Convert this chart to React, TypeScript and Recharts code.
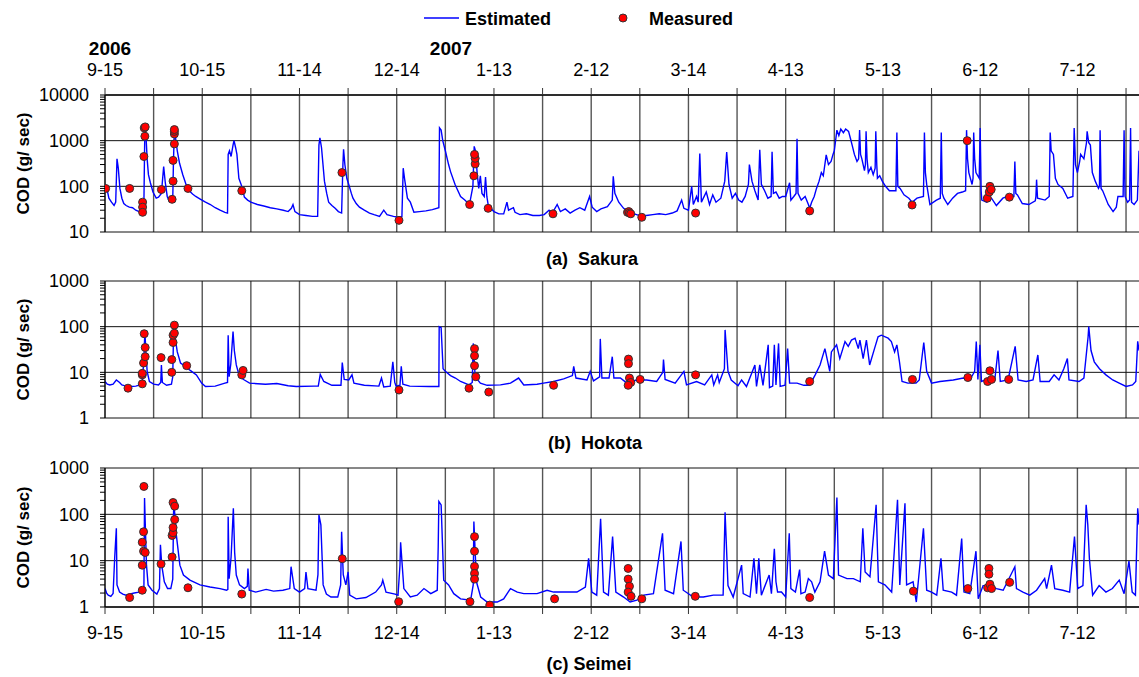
import React from "react";
import {
  ComposedChart,
  Line,
  Scatter,
  XAxis,
  YAxis,
  CartesianGrid,
} from "recharts";

// x axis: days since 2006-09-15
const gridDays = [0, 15, 30, 45, 60, 75, 90, 105, 120, 135, 150, 165, 180, 195, 210, 225, 240, 255, 270, 285, 300, 315];
const labelDays = [0, 30, 60, 90, 120, 150, 180, 210, 240, 270, 300];
const dateLabels = ["9-15", "10-15", "11-14", "12-14", "1-13", "2-12", "3-14", "4-13", "5-13", "6-12", "7-12"];
const lastDay = 319;

const sakuraDecades = [10, 100, 1000, 10000];
const hokotaDecades = [1, 10, 100, 1000];
const seimeiDecades = [1, 10, 100, 1000];
const minorSteps = [2, 3, 4, 5, 6, 7, 8, 9];

// [day, COD g/sec]
const sakuraEstimated: [number, number][] = [
  [0, 110], [0.5, 95], [1.2, 55], [2, 45], [2.8, 38], [3.3, 45], [3.7, 400], [4.1, 250], [4.6, 90], [5.2, 55],
  [5.8, 42], [6.5, 38], [7.5, 35], [8.5, 34], [9.5, 30], [10.5, 28], [11.3, 26], [11.8, 24], [12.0, 40], [12.3, 2000],
  [12.6, 1500], [13.0, 400], [13.4, 180], [14.0, 120], [14.8, 75], [15.8, 55], [16.5, 58], [17.4, 70], [18.1, 270], [18.6, 120],
  [19.2, 60], [19.8, 48], [20.5, 45], [20.9, 50], [21.1, 300], [21.4, 1800], [21.8, 1100], [22.3, 600], [23.0, 320], [24.0, 180],
  [25.0, 110], [26.0, 80], [27.0, 68], [28.0, 60], [29.5, 52], [31.0, 45], [32.5, 40], [34.0, 34], [35.5, 30], [37.0, 27],
  [37.8, 26], [38.0, 500], [38.4, 600], [38.9, 450], [39.5, 800], [39.8, 1000], [40.3, 700], [40.7, 500], [41.3, 150], [41.8, 120],
  [42.3, 95], [43.0, 58], [44.0, 50], [45.0, 45], [47.0, 40], [49.0, 37], [51.0, 34], [53.0, 32], [55.0, 30], [56.5, 28],
  [57.5, 33], [58.0, 40], [58.6, 28], [60.0, 24], [62.0, 23], [64.0, 22], [65.6, 22], [66.0, 800], [66.3, 1150], [66.8, 700],
  [67.7, 130], [68.4, 70], [69.0, 45], [70.0, 38], [71.0, 33], [72.0, 28], [73.0, 26], [73.4, 300], [73.6, 650], [74.0, 300],
  [74.6, 150], [75.2, 110], [76.0, 70], [76.5, 55], [77.5, 42], [78.5, 35], [80.0, 30], [81.6, 26], [83.0, 24], [84.7, 22],
  [86.0, 30], [87.0, 24], [89.0, 22], [90.5, 21], [91.6, 22], [92.0, 250], [92.4, 150], [93.3, 55], [94.2, 45], [95.3, 27],
  [97.0, 28], [99.0, 29], [101.0, 31], [103.0, 34], [103.2, 1900], [103.7, 1700], [104.2, 1000], [105.0, 600], [106.0, 300], [106.6, 210],
  [108.0, 110], [109.7, 60], [111.0, 50], [111.7, 45], [112.5, 42], [113.5, 100], [113.9, 750], [114.3, 600], [114.8, 200], [115.3, 90],
  [115.8, 170], [116.3, 70], [117.0, 60], [117.4, 160], [117.8, 60], [118.2, 40], [119.0, 33], [120.0, 28], [121.5, 25], [123.0, 25],
  [124.0, 45], [124.5, 30], [126.0, 34], [126.5, 27], [128.0, 24], [130.0, 25], [132.0, 23], [134.0, 23], [135.5, 24], [137.0, 30],
  [138.0, 26], [139.5, 40], [140.5, 28], [142.0, 32], [143.5, 26], [145.0, 30], [146.5, 34], [148.0, 30], [149.5, 60], [150.3, 35],
  [151.7, 28], [153.0, 32], [155.0, 36], [156.5, 50], [156.8, 165], [157.3, 70], [158.5, 45], [160.0, 33], [161.5, 28], [162.5, 26],
  [164.0, 24], [165.5, 22], [167.0, 23], [169.0, 24], [171.0, 25], [173.0, 24], [175.0, 26], [176.5, 29], [177.9, 50], [178.6, 33],
  [180.0, 30], [181.0, 100], [181.5, 40], [182.5, 60], [183.0, 45], [183.5, 520], [184.0, 45], [185.5, 75], [186.5, 40], [187.5, 65],
  [188.5, 45], [190.0, 55], [191.2, 130], [191.8, 560], [192.5, 110], [193.5, 55], [194.5, 70], [195.5, 50], [196.5, 45], [197.5, 60],
  [198.5, 110], [198.8, 300], [199.6, 130], [200.5, 80], [201.5, 50], [202.0, 630], [202.5, 110], [203.5, 80], [204.5, 55], [205.5, 60],
  [205.8, 570], [206.2, 70], [207.0, 75], [208.0, 55], [209.0, 60], [210.0, 60], [211.2, 120], [211.6, 50], [212.5, 60], [213.2, 70],
  [213.5, 1100], [213.8, 70], [214.8, 50], [216.0, 60], [217.0, 40], [217.4, 33], [218.0, 45], [218.8, 60], [219.5, 90], [220.3, 130],
  [221.0, 200], [221.6, 170], [222.5, 490], [223.2, 300], [224.0, 350], [224.6, 500], [225.0, 600], [225.8, 1700], [226.4, 1300], [227.0, 1800],
  [227.8, 1500], [228.5, 1800], [229.4, 1600], [230.0, 1100], [230.5, 800], [231.2, 500], [232.0, 350], [232.5, 400], [232.8, 1700], [233.1, 500],
  [233.5, 400], [234.3, 220], [234.6, 300], [234.8, 1600], [235.1, 400], [235.5, 200], [236.3, 260], [237.0, 180], [237.6, 250], [237.8, 1600],
  [238.1, 300], [238.3, 150], [239.0, 170], [239.8, 130], [240.8, 100], [242.0, 80], [244.0, 80], [244.3, 1500], [244.6, 100], [245.3, 90],
  [246.5, 65], [248.0, 55], [249.0, 45], [250.5, 55], [252.5, 60], [252.8, 1500], [253.1, 200], [253.5, 110], [254.5, 40], [256.5, 50],
  [257.7, 55], [258.0, 1500], [258.3, 70], [258.8, 55], [260.0, 40], [261.5, 55], [263.0, 70], [264.5, 75], [265.5, 80], [265.8, 1700],
  [266.1, 400], [266.5, 200], [267.5, 110], [267.8, 150], [268.0, 1500], [268.3, 400], [268.7, 200], [269.7, 150], [270.0, 1900], [270.3, 80],
  [270.5, 50], [272.0, 45], [273.5, 55], [275.0, 38], [277.0, 55], [279.0, 62], [280.4, 60], [280.7, 350], [281.0, 70], [281.5, 65],
  [283.0, 42], [285.0, 40], [287.0, 48], [287.2, 60], [287.4, 140], [287.7, 55], [290.0, 50], [291.3, 60], [291.6, 1500], [291.9, 600],
  [292.6, 500], [293.2, 150], [294.0, 110], [295.5, 90], [297.0, 55], [298.6, 60], [299.0, 1900], [299.4, 300], [300.0, 200], [300.7, 350],
  [301.0, 500], [302.0, 400], [302.8, 900], [303.0, 1600], [303.5, 900], [304.0, 800], [304.6, 200], [305.5, 130], [306.5, 90], [306.8, 100],
  [307.0, 1700], [307.3, 90], [307.8, 80], [309.5, 40], [311.0, 28], [312.0, 35], [312.5, 60], [314.1, 60], [314.4, 1700], [314.7, 60],
  [315.5, 45], [316.1, 50], [316.4, 1900], [316.7, 45], [317.5, 40], [318.5, 50], [319.0, 600],
];

const sakuraMeasured: [number, number][] = [
  [0.2, 90], [7.6, 90], [11.6, 45], [11.6, 35], [11.6, 27], [12.0, 450], [12.3, 1250], [12.1, 1900], [12.4, 2000],
  [17.4, 85], [20.7, 52], [21.0, 130], [21.0, 370], [21.4, 850], [21.4, 1400], [21.4, 1600], [21.4, 1750], [25.6, 90],
  [42.2, 80], [73.1, 200], [90.7, 18], [112.5, 40], [113.8, 170], [114.2, 310], [114.2, 410], [114.0, 500], [118.2, 33],
  [138.2, 25], [161.2, 27], [161.6, 28], [161.8, 26], [162.2, 25], [165.6, 21], [182.2, 26], [217.4, 29], [249.0, 39],
  [266.0, 1000], [272.2, 55], [272.8, 75], [273.0, 100], [273.4, 85], [279.0, 58],
];

const hokotaEstimated: [number, number][] = [
  [0, 6.3], [0.7, 5.5], [1.5, 5.3], [2.5, 5.5], [3.5, 6.8], [4.5, 6.0], [5.2, 5.3], [6.5, 5.0], [8.0, 4.9], [9.5, 5.0],
  [10.8, 5.3], [11.5, 5.8], [12.0, 20], [12.3, 78], [12.6, 30], [13.0, 10.5], [13.7, 6.3], [15.0, 5.5], [16.5, 5.3], [17.2, 6],
  [17.4, 14.5], [17.7, 6], [19.0, 5.2], [20.5, 5.5], [20.9, 8], [21.2, 115], [21.6, 60], [22.3, 28], [23.3, 16], [24.8, 13.5],
  [26.3, 11], [28.2, 8.8], [29.8, 5.8], [31.0, 4.9], [34.0, 5.0], [37.0, 5.8], [37.8, 6], [38.0, 65], [38.3, 8], [38.8, 15],
  [39.5, 78], [39.9, 30], [40.5, 14.5], [41.5, 8], [43.0, 6.8], [44.6, 5.8], [49.5, 5.5], [53.0, 5.7], [56.5, 5.1], [59.0, 4.9],
  [64.5, 5.0], [65.8, 5.0], [66.4, 9], [67.5, 6.3], [70.0, 5.2], [72.8, 5.2], [73.2, 16.4], [73.8, 7], [75.2, 6.8], [76.2, 8.8],
  [76.8, 5.8], [80.0, 5.2], [84.5, 5.0], [85.3, 7.5], [86.0, 4.8], [88.0, 5], [88.8, 17], [89.4, 6], [89.8, 5], [91.0, 5.2],
  [91.4, 13.5], [91.9, 5.5], [94.0, 5.0], [100.0, 4.9], [103.0, 4.9], [103.1, 100], [103.7, 95], [104.3, 12], [105.0, 10.5], [106.6, 8.5],
  [108.1, 7.5], [109.7, 6.3], [112.3, 5.3], [113.3, 6], [113.6, 43], [114.2, 8], [115.8, 5.8], [117.9, 5.2], [122.0, 5.3], [125.1, 5.8],
  [127.6, 7.5], [129.2, 5.3], [133.3, 5.5], [135.3, 5.8], [138.4, 6.3], [141.5, 7.2], [144.2, 8.5], [144.6, 13.5], [145.3, 7.5], [148.7, 6.8],
  [149.7, 10.5], [150.7, 6.5], [152.6, 8], [152.8, 54], [153.3, 7.5], [155.5, 7.5], [156.5, 22], [157.0, 7.5], [159.0, 7.5], [161.0, 5.8],
  [164.0, 6.8], [167.1, 6.8], [170.2, 6.3], [172.1, 10], [172.3, 19], [172.8, 7], [175.9, 5.8], [178.6, 10.5], [179.4, 5.3], [182.5, 6.3],
  [185.0, 5.3], [187.2, 8.8], [187.8, 5.3], [189.0, 8.8], [189.5, 6], [191.1, 12], [191.3, 85], [192.2, 10.5], [193.2, 6.8], [195.3, 5.1],
  [196.4, 6.8], [197.9, 4.9], [200.5, 14.5], [201.0, 4.9], [202.0, 14.5], [203.0, 5.2], [204.6, 40], [205.0, 4.6], [206.0, 5], [206.5, 40],
  [207.0, 5.3], [207.8, 43], [208.3, 4.9], [209.8, 5.2], [210.6, 33], [211.2, 5.8], [213.5, 5.8], [215.6, 5.2], [217.4, 5.2], [219.1, 8.8],
  [220.6, 14.5], [222.1, 33], [223.6, 10.5], [224.1, 28], [225.7, 40], [226.7, 20], [228.3, 47], [229.3, 37], [230.3, 51], [231.4, 56],
  [232.4, 33], [232.9, 51], [233.9, 20], [234.9, 51], [235.9, 14.5], [237.4, 33], [238.5, 60], [239.5, 65], [241.6, 56], [242.6, 47],
  [243.6, 28], [244.3, 40], [245.1, 17], [245.9, 6.3], [247.7, 5.8], [250.2, 5.8], [251.2, 6.8], [252.6, 45], [253.5, 10.5], [255.0, 5.8],
  [257.6, 6.3], [261.7, 6.8], [264.8, 7.5], [266.8, 6.8], [268.3, 10.5], [268.8, 47], [269.3, 7], [269.9, 40], [270.4, 6.3], [273.0, 7.5],
  [274.5, 6.8], [275.5, 30], [276.2, 6.3], [278.6, 6.8], [280.8, 37], [281.7, 6.8], [284.2, 6.3], [286.3, 6.8], [287.8, 24], [288.5, 6.3],
  [291.3, 6.3], [292.8, 8.8], [294.3, 6.8], [295.8, 12], [296.9, 20], [297.4, 6.8], [300.5, 6.3], [302.0, 7.5], [303.3, 60], [303.5, 100],
  [304.2, 30], [305.2, 17], [306.8, 12], [308.8, 8.8], [310.9, 6.8], [312.9, 5.8], [315.0, 4.9], [317.0, 5.3], [318.0, 6.3], [318.6, 48],
  [319.0, 30],
];

const hokotaMeasured: [number, number][] = [
  [7.1, 4.5], [11.5, 5.6], [11.5, 8.8], [11.5, 9.5], [11.9, 16], [12.1, 70], [12.4, 22], [12.4, 35], [17.3, 21],
  [20.6, 10], [20.6, 19], [21.0, 45], [21.0, 65], [21.4, 108], [21.4, 72], [25.2, 14], [42.2, 8.8], [42.6, 11],
  [90.7, 4.1], [112.3, 4.5], [114.0, 33], [114.0, 23], [114.0, 14], [114.4, 8], [118.4, 3.7], [138.4, 5.2],
  [161.5, 19.5], [161.5, 15.5], [161.8, 7.5], [162.2, 6], [161.4, 5.2], [165.1, 7], [182.2, 8.8], [217.4, 6.3],
  [249.1, 7], [266.2, 7.7], [273.0, 10.8], [272.3, 6.3], [273.5, 7], [278.8, 7],
];

const seimeiEstimated: [number, number][] = [
  [0, 2.5], [0.5, 2.0], [1.0, 1.8], [1.8, 1.7], [2.5, 1.95], [3.0, 12], [3.5, 50], [3.7, 3], [4.5, 2.1], [5.5, 1.9],
  [6.5, 1.8], [7.5, 1.9], [9.0, 2.0], [10.5, 2.1], [11.5, 2.3], [12.0, 2.5], [12.2, 224], [12.5, 40], [12.8, 8], [13.3, 3.0],
  [14.5, 2.3], [16.0, 1.9], [16.8, 2.5], [17.1, 22], [17.5, 8], [18.3, 3.5], [19.3, 2.5], [20.3, 2.5], [20.9, 4], [21.2, 190],
  [21.8, 60], [22.0, 36], [23.1, 8], [24.2, 4.9], [26.2, 3.8], [29.3, 3.0], [32.4, 2.7], [35.5, 2.5], [37.5, 2.3], [37.9, 2.4],
  [38.0, 89], [38.3, 4.1], [38.9, 12], [39.6, 135], [40.0, 15], [40.5, 4.9], [41.5, 3], [43.0, 2.5], [43.9, 2.8], [44.1, 6.8],
  [44.5, 2.3], [46.5, 2.1], [49.7, 2.4], [52.0, 2.2], [54.9, 2.3], [57.0, 2.5], [57.4, 7.4], [58.4, 2.5], [60.0, 2.1], [61.6, 2.5],
  [62.0, 5.7], [62.6, 2.5], [65.1, 2.3], [65.7, 5], [66.0, 97], [66.6, 59], [67.3, 3], [68.3, 1.9], [69.7, 1.64], [71.8, 1.64],
  [72.7, 3], [73.0, 42], [73.5, 5], [74.3, 3], [75.0, 5.7], [75.5, 1.8], [77.5, 1.5], [80.5, 1.6], [83.5, 2.1], [85.3, 3.0],
  [85.7, 3.8], [86.7, 2.1], [89.5, 1.9], [90.4, 1.8], [91.0, 8], [91.2, 25], [92.2, 2.5], [94.2, 1.64], [96.3, 1.8], [98.4, 2.5],
  [100.5, 1.94], [102.5, 2.3], [102.8, 20], [103.0, 190], [103.7, 160], [104.5, 3.8], [106.0, 3], [107.6, 1.94], [109.7, 1.5], [112.8, 1.4],
  [113.6, 3], [113.8, 70], [114.6, 3.5], [115.9, 1.64], [117.9, 1.28], [121.0, 1.28], [123.0, 1.5], [125.1, 2.5], [127.2, 2.1], [129.2, 1.94],
  [133.3, 1.94], [136.4, 2.3], [138.4, 2.1], [142.5, 2.1], [145.6, 2.1], [148.2, 2.7], [149.2, 11.2], [150.2, 2.1], [151.7, 1.8], [152.9, 80],
  [153.8, 2.1], [155.3, 1.8], [156.6, 33], [157.6, 2.1], [160.0, 1.64], [162.0, 1.28], [164.1, 1.4], [166.2, 1.8], [169.2, 1.94], [172.0, 39],
  [172.8, 2.3], [175.4, 1.94], [177.7, 26], [178.4, 2.3], [181.5, 1.64], [184.6, 1.64], [187.7, 1.8], [190.7, 1.8], [191.3, 111], [192.2, 2.9],
  [193.8, 1.64], [196.4, 8], [196.9, 1.94], [199.0, 1.64], [200.2, 11.2], [201.0, 1.94], [201.7, 11.2], [202.5, 1.8], [204.9, 4.9], [205.6, 1.94],
  [206.5, 18], [207.0, 3.5], [207.5, 2.1], [208.7, 2.1], [210.0, 1.64], [211.1, 39], [211.6, 2.5], [213.0, 2.1], [214.3, 6.4], [214.7, 1.94],
  [216.0, 2.1], [217.0, 4.1], [218.0, 3.5], [219.0, 2.1], [220.6, 3.5], [222.0, 16], [223.2, 4.9], [224.7, 4.1], [225.8, 230], [226.3, 4.9],
  [228.9, 4.1], [230.9, 4.1], [233.0, 3.5], [233.8, 50], [234.5, 5.7], [236.0, 4.5], [237.9, 160], [238.6, 3.5], [240.6, 3.0], [242.7, 2.1],
  [244.5, 205], [245.2, 3], [246.8, 174], [247.3, 3], [249.3, 3.5], [250.3, 1.28], [252.5, 50], [253.5, 2.3], [255.0, 2.1], [256.6, 1.8],
  [257.9, 11.2], [258.6, 2.3], [261.2, 2.1], [262.7, 1.8], [264.3, 30], [265.0, 2.1], [266.8, 1.94], [268.7, 16], [269.4, 1.5], [270.9, 2.9],
  [273.0, 2.9], [275.0, 2.5], [277.1, 2.3], [280.7, 7.4], [281.2, 2.5], [283.2, 2.1], [285.3, 1.8], [287.4, 2.3], [289.9, 4.1], [290.5, 2.5],
  [292.0, 8], [293.0, 2.5], [295.5, 2.3], [297.6, 2.1], [299.1, 33], [300.1, 2.5], [301.7, 2.9], [302.7, 160], [303.2, 60], [303.7, 11],
  [304.7, 1.8], [306.7, 2.9], [308.8, 2.1], [310.8, 2.5], [312.9, 3.8], [314.4, 1.94], [315.9, 9.8], [316.9, 2.1], [317.9, 1.8], [318.6, 135],
  [319.0, 60],
];

const seimeiMeasured: [number, number][] = [
  [7.6, 1.6], [11.5, 2.3], [11.5, 8], [11.5, 25], [11.9, 42], [11.9, 16], [12.0, 400], [12.4, 15], [17.3, 8.5],
  [20.7, 12], [20.7, 35], [21.0, 40], [21.0, 52], [21.0, 180], [21.5, 150], [21.5, 77], [25.6, 2.6], [42.2, 1.9],
  [73.2, 11], [90.6, 1.3], [112.6, 1.3], [114.0, 33], [114.0, 16], [114.0, 7.5], [114.0, 5.3], [114.0, 4],
  [118.7, 1.1], [138.7, 1.5], [161.4, 6.8], [161.4, 4], [161.8, 2.8], [161.4, 2.1], [162.3, 1.7], [165.6, 1.5],
  [182.1, 1.7], [217.4, 1.6], [249.4, 2.2], [266.2, 2.5], [272.7, 6.8], [272.7, 5.1], [272.3, 2.6], [273.0, 3.1],
  [273.5, 2.5], [279.1, 3.4],
];

const FONT = "'Liberation Sans', Arial, sans-serif";
const toPoints = (rows: [number, number][]) => rows.map(([day, v]) => ({ day, v }));

interface IPanelProps {
  top: number;
  height: number;
  estimated: [number, number][];
  measured: [number, number][];
  decades: number[];
  axis: "top" | "bottom" | "none";
  margin: { top: number; right: number; bottom: number; left: number };
}

const DateTick = (props: any) => {
  const { x, y, payload, orientation } = props;
  const i = labelDays.indexOf(payload.value);
  if (i < 0) return <g />;
  return (
    <text
      x={x}
      y={orientation === "top" ? y : y + 13}
      textAnchor="middle"
      fontFamily={FONT}
      fontSize={18}
      fill="#000"
    >
      {dateLabels[i]}
    </text>
  );
};

const MeasuredDot = (props: any) => (
  <circle cx={props.cx} cy={props.cy} r={4} fill="#ff0000" stroke="#333" strokeWidth={1} />
);

const Panel = ({ top, height, estimated, measured, decades, axis, margin }: IPanelProps) => {
  const minor = decades.slice(0, -1).flatMap((d) => minorSteps.map((m) => d * m));
  const yTicks = [...decades, ...minor].sort((a, b) => a - b);
  const decadeTick = (p: any) =>
    decades.includes(p.payload.value) ? (
      <text x={p.x} y={p.y} dy="0.36em" textAnchor="end" fontFamily={FONT} fontSize={18} fill="#000">
        {p.payload.value}
      </text>
    ) : (
      <g />
    );

  return (
    <div style={{ position: "absolute", left: 0, top }}>
      <ComposedChart width={1139} height={height} margin={margin}>
        <CartesianGrid horizontal={false} verticalValues={gridDays} stroke="#555" strokeWidth={1.4} />
        <CartesianGrid vertical={false} horizontalValues={decades} stroke="#111" strokeWidth={1} />
        <XAxis
          dataKey="day"
          type="number"
          domain={[0, lastDay]}
          allowDataOverflow
          ticks={gridDays}
          interval={0}
          hide={axis === "none"}
          orientation={axis === "top" ? "top" : "bottom"}
          height={axis === "none" ? 0 : axis === "top" ? 30 : 40}
          axisLine={{ stroke: "#111", strokeWidth: 1.5 }}
          tickLine={{ stroke: "#333" }}
          tickSize={7}
          tickMargin={12}
          tick={(p: any) => <DateTick {...p} orientation={axis} />}
        />
        <YAxis
          type="number"
          scale="log"
          domain={[decades[0], decades[decades.length - 1]]}
          allowDataOverflow
          ticks={yTicks}
          interval={0}
          width={60}
          axisLine={{ stroke: "#000" }}
          tickLine={{ stroke: "#000" }}
          tickSize={5}
          tickMargin={11}
          tick={decadeTick}
        />
        <Line
          data={toPoints(estimated)}
          dataKey="v"
          type="linear"
          stroke="#0000ff"
          strokeWidth={1.4}
          dot={false}
          activeDot={false}
          isAnimationActive={false}
        />
        <Scatter
          data={toPoints(measured)}
          dataKey="v"
          shape={MeasuredDot}
          isAnimationActive={false}
        />
      </ComposedChart>
    </div>
  );
};

const boldText = { fontFamily: FONT, fontWeight: 700 as const, fill: "#000" };

export default function App() {
  return (
    <div style={{ position: "absolute", left: 0, top: 0, width: 1139, height: 677, background: "#fff", overflow: "hidden" }}>
      <Panel
        top={0}
        height={248}
        estimated={sakuraEstimated}
        measured={sakuraMeasured}
        decades={sakuraDecades}
        axis="top"
        margin={{ top: 65, right: 0, bottom: 16, left: 45 }}
      />
      <Panel
        top={250}
        height={180}
        estimated={hokotaEstimated}
        measured={hokotaMeasured}
        decades={hokotaDecades}
        axis="none"
        margin={{ top: 31, right: 0, bottom: 12, left: 45 }}
      />
      <Panel
        top={430}
        height={247}
        estimated={seimeiEstimated}
        measured={seimeiMeasured}
        decades={seimeiDecades}
        axis="bottom"
        margin={{ top: 38, right: 0, bottom: 30, left: 45 }}
      />
      <svg width={1139} height={677} style={{ position: "absolute", left: 0, top: 0, pointerEvents: "none" }}>
        <line x1={424} x2={459} y1={18} y2={18} stroke="#0000ff" strokeWidth={1.5} />
        <text x={465} y={24.5} fontSize={18} {...boldText}>Estimated</text>
        <circle cx={623} cy={18} r={4} fill="#ff0000" stroke="#333" strokeWidth={1} />
        <text x={649} y={24.5} fontSize={18} {...boldText}>Measured</text>
        <text x={110} y={55} fontSize={19} textAnchor="middle" {...boldText}>2006</text>
        <text x={451} y={55} fontSize={19} textAnchor="middle" {...boldText}>2007</text>
        <text x={592} y={264.5} fontSize={18} textAnchor="middle" style={{ whiteSpace: "pre" }} {...boldText}>(a)  Sakura</text>
        <text x={595} y={448.5} fontSize={18} textAnchor="middle" style={{ whiteSpace: "pre" }} {...boldText}>(b)  Hokota</text>
        <text x={589} y={669.5} fontSize={18} textAnchor="middle" {...boldText}>(c) Seimei</text>
        {[163.5, 349.5, 537.5].map((cy) => (
          <text
            key={cy}
            transform={`translate(23,${cy}) rotate(-90)`}
            dy="0.35em"
            fontSize={17}
            textAnchor="middle"
            {...boldText}
          >
            COD (g/ sec)
          </text>
        ))}
      </svg>
    </div>
  );
}
